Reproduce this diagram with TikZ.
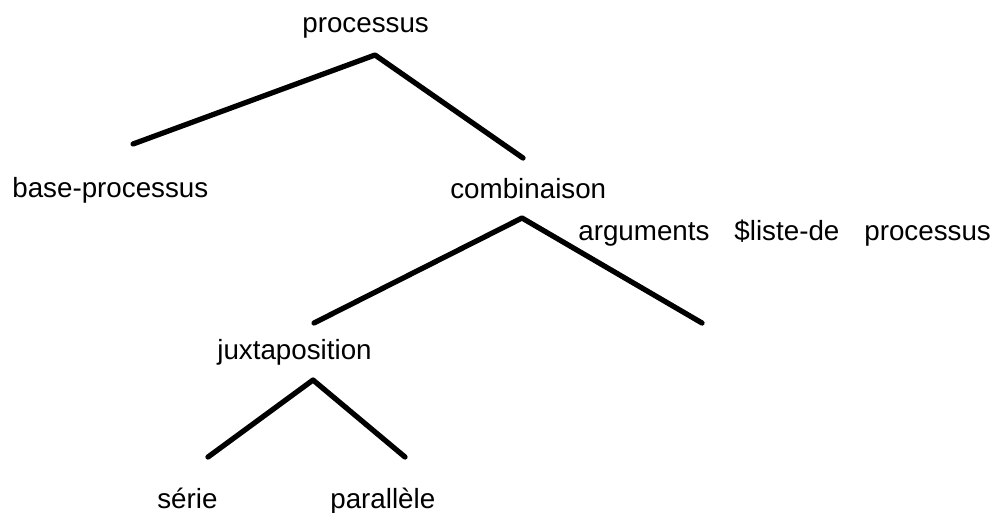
\documentclass[tikz,border=0pt]{standalone}
\usepackage{fontspec}
\setmainfont{Liberation Sans}
\usepackage{tikz}
\usetikzlibrary{positioning}

\begin{document}
\begin{tikzpicture}[
  x=0.02cm, y=-0.02cm,
  lbl/.style={anchor=base west,inner sep=0pt,font=\fontsize{15.8}{18}\selectfont},
  branch/.style={line width=3pt,line cap=round,line join=round}]
\useasboundingbox (0,0) rectangle (996,512);
\node[lbl] (proc) at (302,32) {processus};
\node[lbl] (base) at (12,197) {base-processus};
\node[lbl] (comb) at (450,198) {combinaison};
\node[lbl] (args) at (578,240) {arguments\hspace{0.5cm}\$liste-de\hspace{0.5cm}processus};
\node[lbl] (juxt) at (217,359) {juxtaposition};
\node[lbl] (serie) at (157,508) {série};
\node[lbl] (para) at (330,508) {parallèle};
\coordinate (proc-s) at (375,55);
\coordinate (base-n) at (133,144);
\coordinate (comb-n) at (523,158);
\coordinate (comb-s) at (522,218);
\coordinate (juxt-n) at (314,323);
\coordinate (args-n) at (702,323);
\coordinate (juxt-s) at (313,380);
\coordinate (serie-n) at (208,457);
\coordinate (para-n) at (405,457);
\draw[branch] (base-n) -- (proc-s) -- (comb-n);
\draw[branch] (juxt-n) -- (comb-s) -- (args-n);
\draw[branch] (serie-n) -- (juxt-s) -- (para-n);
\end{tikzpicture}
\end{document}
